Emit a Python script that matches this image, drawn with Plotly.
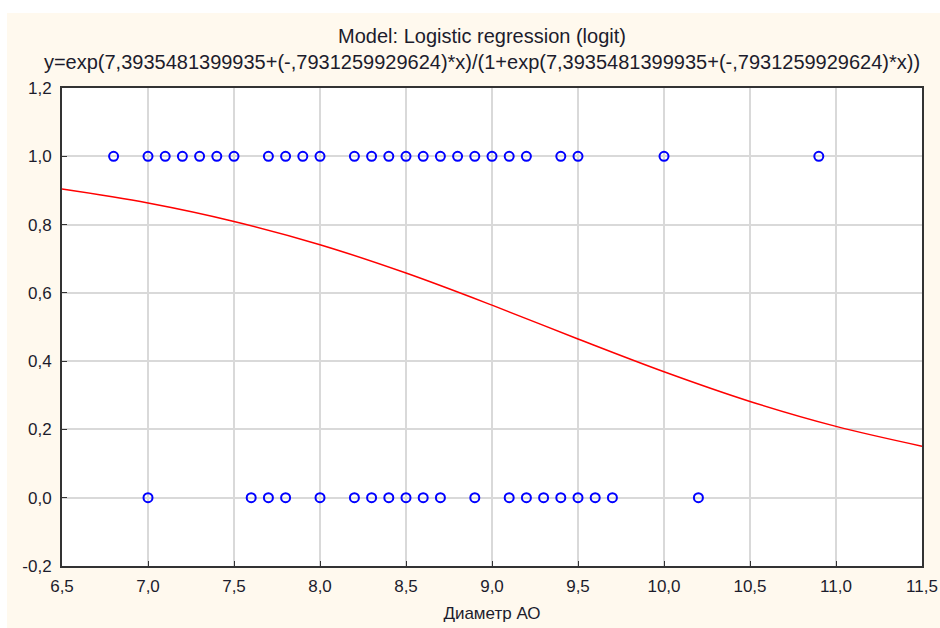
import plotly.graph_objects as go

# Observed data (Диаметр АО vs outcome 0/1)
x_one = [6.8, 7.0, 7.1, 7.2, 7.3, 7.4, 7.5, 7.7, 7.8, 7.9, 8.0, 8.2, 8.3, 8.4, 8.5,
         8.6, 8.7, 8.8, 8.9, 9.0, 9.1, 9.2, 9.4, 9.5, 10.0, 10.9]
y_one = [1.0] * len(x_one)
x_zero = [7.0, 7.6, 7.7, 7.8, 8.0, 8.2, 8.3, 8.4, 8.5, 8.6, 8.7, 8.9, 9.1, 9.2, 9.3,
          9.4, 9.5, 9.6, 9.7, 10.2]
y_zero = [0.0] * len(x_zero)

# Fitted logistic curve
curve_x = [6.5, 7.0, 7.5, 8.0, 8.5, 9.0, 9.5, 10.0, 10.5, 11.0, 11.5]
curve_y = [0.904, 0.863, 0.809, 0.741, 0.658, 0.564, 0.465, 0.369, 0.282, 0.209, 0.151]

x_ticks = [6.5, 7.0, 7.5, 8.0, 8.5, 9.0, 9.5, 10.0, 10.5, 11.0, 11.5]
x_tick_labels = ["6,5", "7,0", "7,5", "8,0", "8,5", "9,0", "9,5", "10,0", "10,5", "11,0", "11,5"]
y_ticks = [-0.2, 0.0, 0.2, 0.4, 0.6, 0.8, 1.0, 1.2]
y_tick_labels = ["-0,2", "0,0", "0,2", "0,4", "0,6", "0,8", "1,0", "1,2"]

title_line1 = "Model: Logistic regression (logit)"
title_line2 = "y=exp(7,3935481399935+(-,7931259929624)*x)/(1+exp(7,3935481399935+(-,7931259929624)*x))"
x_title = "Диаметр АО"

FONT = "Liberation Sans, Arial, sans-serif"
W, H = 940, 628
L, R, T, B = 62, 18, 88, 62

fig = go.Figure()
fig.add_trace(go.Scatter(x=curve_x, y=curve_y, mode="lines",
                         line=dict(color="#ff0000", width=1.5, shape="spline"),
                         hoverinfo="skip", showlegend=False))
fig.add_trace(go.Scatter(x=x_one + x_zero, y=y_one + y_zero, mode="markers",
                         marker=dict(symbol="circle-open", size=9,
                                     line=dict(color="#0000ff", width=2), color="#0000ff"),
                         showlegend=False))

pw = W - L - R
ph = H - T - B
fig.add_shape(type="rect", xref="paper", yref="paper", layer="below",
              x0=(7 - L) / pw, x1=(W - L) / pw,
              y0=-(B) / ph, y1=(H - B - 13) / ph,
              fillcolor="#fff9ee", line=dict(width=0))
fig.add_shape(type="rect", xref="paper", yref="paper", layer="below",
              x0=0, x1=1, y0=0, y1=1, fillcolor="#ffffff", line=dict(width=0))

fig.update_layout(
    width=W, height=H,
    margin=dict(l=L, r=R, t=T, b=B, autoexpand=False),
    paper_bgcolor="#ffffff",
    plot_bgcolor="rgba(0,0,0,0)",
    font=dict(family=FONT, size=17, color="#1c1c2c"),
    title=dict(text=title_line1 + "<br>" + title_line2,
               x=(482 - L) / pw, xref="paper", xanchor="center",
               y=1 - 43 / H, yref="container", yanchor="middle",
               font=dict(family=FONT, size=20, color="#1c1c2c")),
    showlegend=False,
)
fig.update_xaxes(range=[6.5, 11.5], tickvals=x_ticks, ticktext=x_tick_labels,
                 automargin=False,
                 showgrid=True, gridcolor="#d9d9d9", gridwidth=1.5,
                 zeroline=False, showline=True, linecolor="#333333", linewidth=2,
                 mirror=True, ticks="inside", ticklen=5, tickcolor="#333333",
                 title=dict(text=x_title, standoff=12, font=dict(size=17)),
                 tickfont=dict(size=17), ticklabelstandoff=4)
fig.update_yaxes(range=[-0.2, 1.2], tickvals=y_ticks, ticktext=y_tick_labels,
                 automargin=False,
                 showgrid=True, gridcolor="#d9d9d9", gridwidth=1.5,
                 zeroline=False, showline=True, linecolor="#333333", linewidth=2,
                 mirror=True, ticks="inside", ticklen=5, tickcolor="#333333",
                 tickfont=dict(size=17), ticklabelstandoff=5)

fig.write_html("out.html")
